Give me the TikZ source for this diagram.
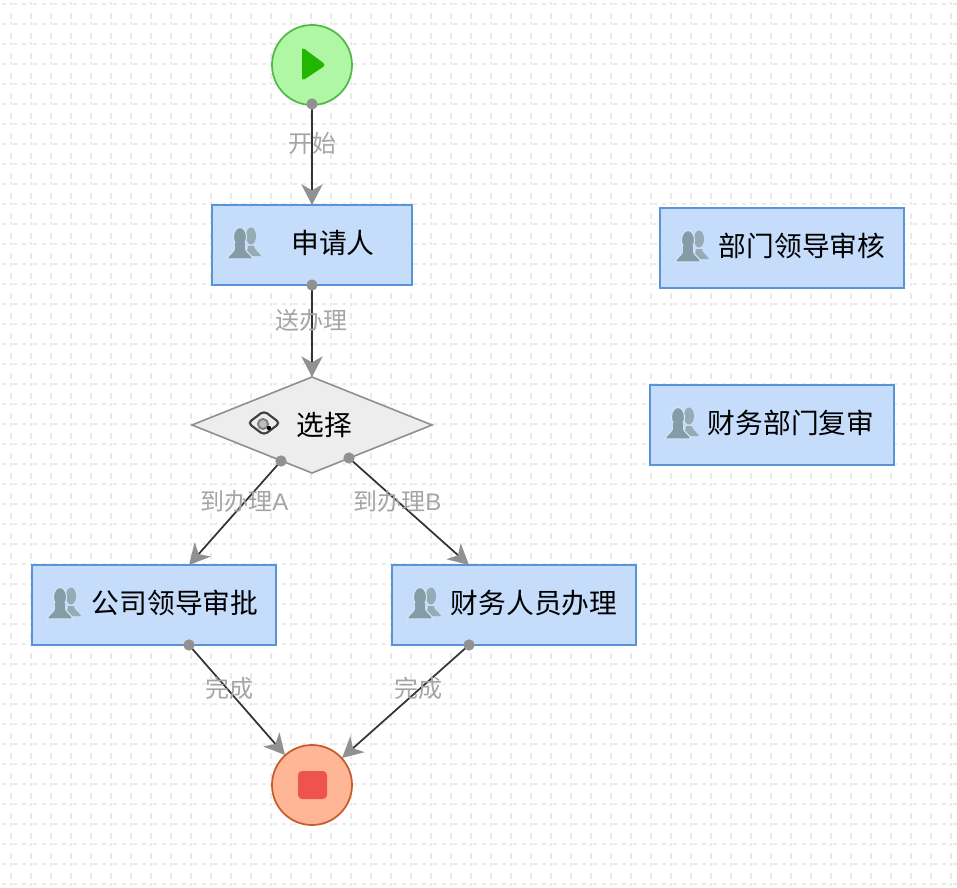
\documentclass[tikz,border=0pt]{standalone}
\usepackage{fontspec}
\setmainfont{Liberation Sans}
\newfontfamily\cjk{Noto Sans CJK SC}[Scale=1]
\usetikzlibrary{shapes.geometric,arrows.meta}
\definecolor{griddot}{RGB}{234,234,234}
\definecolor{taskfill}{RGB}{197,220,250}
\definecolor{taskline}{RGB}{90,148,216}
\definecolor{startfill}{RGB}{175,247,165}
\definecolor{startline}{RGB}{82,184,72}
\definecolor{endfill}{RGB}{255,182,150}
\definecolor{endline}{RGB}{196,92,44}
\definecolor{tipgray}{RGB}{145,145,145}
\definecolor{labelgray}{RGB}{165,165,165}
\definecolor{userc}{RGB}{132,156,166}
\tikzset{
  x=0.75pt,y=-0.75pt,
  every node/.style={inner sep=0,outer sep=0},
  taskbox/.style={draw=taskline,fill=taskfill,line width=1.2pt,rectangle},
  round/.style={circle,line width=1.3pt,minimum size=60pt},
  conn/.style={draw=black!80,line width=1.3pt,-{Stealth[length=15.5pt,width=16pt,inset=4.5pt,fill=tipgray,color=tipgray]}},
  linklabel/.style={text=labelgray,font=\fontsize{18pt}{20pt}\selectfont\cjk},
  tasklabel/.style={font=\fontsize{20.8pt}{24pt}\selectfont\cjk,text=black},
  portdot/.style={circle,fill=tipgray,minimum size=8.5pt}
}
\newcommand{\usericon}[2]{%
  \begin{scope}[shift={(#1,#2)}]
    \fill[userc!85] (7,-9) circle[x radius=5,y radius=8.5];
    \fill[userc!85] (-1,11) .. controls (2,7) and (4,6) .. (4,1) -- (10,1) .. controls (10,5) and (14,6) .. (17,11) -- cycle;
    \fill[userc,draw=white!30!taskfill,line width=0.8pt] (-17,14) .. controls (-15,8) and (-9,8) .. (-9,1) -- (1,1) .. controls (1,8) and (7,8) .. (9,14) -- cycle;
    \fill[userc,draw=white!30!taskfill,line width=0.8pt] (-4,-8) circle[x radius=6.5,y radius=9.5];
    \fill[userc] (-9,-2) rectangle (1,4);
  \end{scope}}
\begin{document}
\begin{tikzpicture}
\useasboundingbox (0,0) rectangle (957,888);
\fill[white] (0,0) rectangle (957,888);
\foreach \yy in {4,24,...,884} \foreach \xx in {4,24,...,944} {
  \fill[griddot] (\xx-2,\yy-1.2) rectangle (\xx+2,\yy+1.2);
  \fill[griddot] (\xx+9,\yy-1.2) rectangle (\xx+13,\yy+1.2);
  \fill[griddot] (\xx+5.8,\yy-1.5) rectangle (\xx+8.2,\yy+1.5);
  \fill[griddot] (\xx+5.8,\yy+9) rectangle (\xx+8.2,\yy+15);
}

\node[round,draw=startline,fill=startfill] (start) at (312,65) {};
\fill[rounded corners=2.5pt,fill={rgb,255:red,35;green,182;blue,0}] (302,47) -- (326,65) -- (302,81) -- cycle;
\node[round,draw=endline,fill=endfill] (stop) at (312,785) {};
\fill[rounded corners=3pt,fill={rgb,255:red,238;green,84;blue,76}] (298,771) rectangle (327,799);

\node[taskbox,minimum width=150pt,minimum height=60pt] (apply) at (312,245) {};
\node[taskbox,minimum width=183pt,minimum height=60pt] (dept) at (782,248) {};
\node[taskbox,minimum width=183pt,minimum height=60pt] (fin) at (772,425) {};
\node[taskbox,minimum width=183pt,minimum height=60pt] (boss) at (154,605) {};
\node[taskbox,minimum width=183pt,minimum height=60pt] (staff) at (514,605) {};
\node[diamond,draw=tipgray,fill=black!7,line width=1.2pt,minimum width=180pt,minimum height=72pt,aspect=2.5] (pick) at (312,425) {};

\usericon{244}{245}
\usericon{692}{248}
\usericon{682}{425}
\usericon{64}{605}
\usericon{424}{605}

\node[tasklabel] (tapply) at (333,243) {申请人};
\node[tasklabel] (tdept) at (802,246) {部门领导审核};
\node[tasklabel] (tfin) at (791,423) {财务部门复审};
\node[tasklabel] (tboss) at (175,603) {公司领导审批};
\node[tasklabel] (tstaff) at (534,603) {财务人员办理};
\node[tasklabel] (tpick) at (324,425) {选择};

\begin{scope}[shift={(264,423)}]
  \draw[black!75,line width=1.6pt,rounded corners=3pt] (-16,0) -- (0,-12) -- (16,0) -- (0,12) -- cycle;
  \draw[black!50,line width=1.5pt,fill=black!25] (-1,1) circle[radius=5];
  \fill[black] (5,5) circle[radius=2.2];
\end{scope}

\coordinate (p1) at (312,104);
\coordinate (p2) at (312,285);
\coordinate (p3) at (281,461);
\coordinate (p4) at (349,458);
\coordinate (p5) at (189,645);
\coordinate (p6) at (469,645);
\coordinate (e1) at (312,205);
\coordinate (e2) at (312,377);
\coordinate (e3) at (189,565);
\coordinate (e4) at (469,565);
\coordinate (e5) at (285,755);
\coordinate (e6) at (342,758);

\draw[conn] (p1) -- (e1);
\draw[conn] (p2) -- (e2);
\draw[conn] (p3) -- (e3);
\draw[conn] (p4) -- (e4);
\draw[conn] (p5) -- (e5);
\draw[conn] (p6) -- (e6);
\foreach \pp in {p1,p2,p3,p4,p5,p6} \node[portdot] at (\pp) {};

\node[linklabel] (l1) at (312,143) {开始};
\node[linklabel] (l2) at (311,320) {送办理};
\node[linklabel] (l3) at (244.5,501) {到办理{\fontspec{Liberation Sans}A}};
\node[linklabel] (l4) at (397.5,501) {到办理{\fontspec{Liberation Sans}B}};
\node[linklabel] (l5) at (229,688) {完成};
\node[linklabel] (l6) at (418,688) {完成};
\end{tikzpicture}
\end{document}
